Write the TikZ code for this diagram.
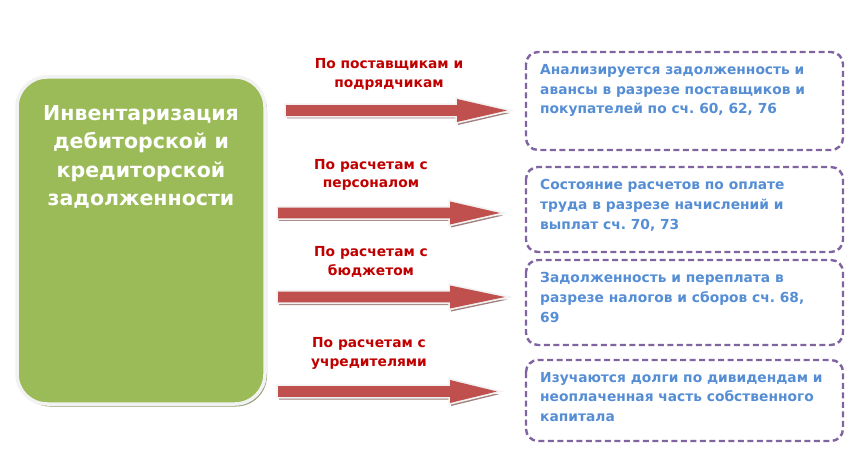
\documentclass[tikz,border=0pt]{standalone}
\usepackage{fontspec}
\setmainfont{DejaVu Sans}
\frenchspacing
\definecolor{mgreen}{HTML}{9BBB59}
\definecolor{mhalo}{HTML}{F2F2F2}
\definecolor{mred}{HTML}{C0504D}
\definecolor{lblred}{HTML}{C00000}
\definecolor{mpurple}{HTML}{8064A2}
\definecolor{mblue}{HTML}{558ED5}
\definecolor{gshadow}{HTML}{8E9A72}
\definecolor{rshadow}{HTML}{A07E7C}
\tikzset{
  lbl/.style={text=lblred, font=\fontsize{13.8}{18.5}\selectfont\bfseries, align=center, inner sep=0pt},
  infobox/.style={draw=mpurple, line width=2.4pt, dash pattern=on 6pt off 3.5pt, rounded corners=12pt, fill=white, inner sep=0pt},
  infotxt/.style={text=mblue, font=\fontsize{13.8}{19.6}\selectfont\bfseries, align=left, inner sep=0pt, anchor=north west},
  maintxt/.style={text=white, font=\fontsize{20.5}{28.5}\selectfont\bfseries, align=center, inner sep=0pt}
}
\newcommand\fatarrow[5]{% name, x1, xh, x2, y
  \coordinate (#1s) at (#2,#5);
  \coordinate (#1e) at (#4,#5);
  \fill[rshadow] ($(#1s)+(1,2.5)$) -- ++(0,5.5) -- (#3+1,#5+8) -- (#3+1,#5+14.5) -- ($(#1e)+(3,2.5)$) -- cycle;
  \draw[mhalo, line width=3.5pt, line join=miter, fill=mred]
    (#2,#5-5.3) -- (#3,#5-5.3) -- (#3,#5-11.5) -- (#1e) -- (#3,#5+11.5) -- (#3,#5+5.3) -- (#2,#5+5.3) -- cycle;
  \fill[mred] (#2,#5-5.3) -- (#3,#5-5.3) -- (#3,#5-11.5) -- (#1e) -- (#3,#5+11.5) -- (#3,#5+5.3) -- (#2,#5+5.3) -- cycle;
}
\usetikzlibrary{calc}
\begin{document}
\begin{tikzpicture}[x=1pt,y=-1pt]
\useasboundingbox (0,0) rectangle (859,470);
% main box
\fill[gshadow, rounded corners=31pt] (19,79.5) rectangle (267,406.5);
\draw[mhalo, line width=3.5pt, fill=mgreen, rounded corners=30pt] (17,77) rectangle (265,404);
\node[maintxt] (main) at (141,157) {Инвентаризация\\дебиторской и\\кредиторской\\задолженности};
% arrows
\fatarrow{a}{286}{457}{507}{110.5}
\fatarrow{b}{278}{450}{500}{213}
\fatarrow{c}{278}{450}{505}{297}
\fatarrow{d}{278}{450}{497}{391.5}
% labels
\node[lbl] (la) at (389,74.5) {По поставщикам и\\подрядчикам};
\node[lbl] (lb) at (371,175) {По расчетам с\\персоналом};
\node[lbl] (lc) at (371,262) {По расчетам с\\бюджетом};
\node[lbl] (ld) at (369,353.5) {По расчетам с\\учредителями};
% info boxes
\draw[infobox] (526,52) rectangle (843,150);
\draw[infobox] (526,167) rectangle (843,252);
\draw[infobox] (526,260) rectangle (843,345);
\draw[infobox] (526,360) rectangle (843,441);
\node[infotxt] (ta) at (540,64.5) {Анализируется задолженность и\\авансы в разрезе поставщиков и\\покупателей по сч. 60, 62, 76};
\node[infotxt] (tb) at (540,179.5) {Состояние расчетов по оплате\\труда в разрезе начислений и\\выплат сч. 70, 73};
\node[infotxt] (tc) at (540,272.5) {Задолженность и переплата в\\разрезе налогов и сборов сч. 68,\\69};
\node[infotxt] (td) at (540,372) {Изучаются долги по дивидендам и\\неоплаченная часть собственного\\капитала};
\end{tikzpicture}
\end{document}
